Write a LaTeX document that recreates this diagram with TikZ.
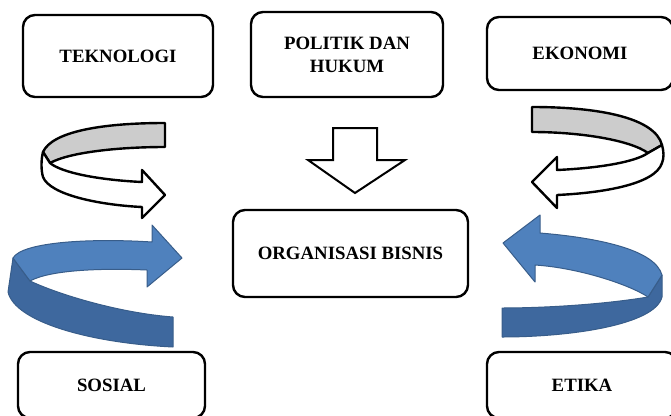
\documentclass[tikz,border=0pt]{standalone}
\usepackage{fontspec}
\setmainfont{Liberation Serif}
\definecolor{birumuda}{RGB}{79,129,189}
\definecolor{birutua}{RGB}{62,104,158}
\definecolor{birugaris}{RGB}{56,93,138}

\begin{document}
\begin{tikzpicture}[x=1pt,y=-1pt]
	\tikzset{kotak/.style={draw, line width=2.4pt, rounded corners=12pt, align=center,
			inner sep=0pt, font=\fontsize{18.8}{23}\selectfont\bfseries}}
	\tikzset{putih/.style={draw=black, fill=white, line width=2.4pt, line join=round}}
	\tikzset{abu/.style={putih, fill=black!20}}
	\tikzset{biru/.style={draw=birugaris, line width=1pt, line join=round}}
	\clip (0,0) rectangle (671,415);
	% kotak-kotak faktor lingkungan
	\node[kotak, minimum width=190pt, minimum height=82pt] (teknologi) at (118,56) {TEKNOLOGI};
	\node[kotak, minimum width=192pt, minimum height=85pt] (politik) at (347,54.5) {POLITIK DAN\\HUKUM};
	\node[kotak, minimum width=186pt, minimum height=73pt] (ekonomi) at (580,53.5) {EKONOMI};
	\node[kotak, minimum width=235pt, minimum height=87pt] (organisasi) at (350.5,253.5) {ORGANISASI BISNIS};
	\node[kotak, minimum width=187pt, minimum height=66pt] (sosial) at (111.5,385) {SOSIAL};
	\node[kotak, minimum width=190pt, minimum height=66pt] (etika) at (582,385) {ETIKA};
	% panah ke bawah dari politik
	\path[putih, line width=2pt, line join=miter] (333,128) -- (377,128) -- (377,160) -- (405,160)
		-- (355,193) -- (308,160) -- (333,160) -- cycle;
	% panah melingkar kiri atas
	\path[abu] (165,123) .. controls (100,123) and (52,132) .. (43,152)
		-- (50,163) .. controls (70,152) and (120,147) .. (165,147) -- cycle;
	\path[putih] (43,152) .. controls (41,160) and (41,170) .. (43,177)
		.. controls (50,195) and (100,205) .. (142,207)
		-- (142,218) -- (165,195) -- (142,170) -- (142,182)
		.. controls (100,180) and (62,173) .. (50,163) -- cycle;
	% panah melingkar kanan atas
	\path[abu] (532,107) .. controls (600,107) and (655,118) .. (662,145)
		-- (648,153) .. controls (630,140) and (580,132) .. (532,132) -- cycle;
	\path[putih] (648,153) -- (662,145) .. controls (664,152) and (664,158) .. (662,163)
		.. controls (655,185) and (600,193) .. (557,195)
		-- (557,208) -- (532,182) -- (557,157) -- (557,170)
		.. controls (600,168) and (635,162) .. (648,153) -- cycle;
	% panah biru kiri bawah
	\path[biru, fill=birutua] (13,258) -- (30,281) .. controls (60,295) and (120,313) .. (173,317)
		-- (173,347) .. controls (90,343) and (15,322) .. (8,292) -- cycle;
	\path[biru, fill=birumuda] (13,258) .. controls (22,242) and (90,238) .. (152,242)
		-- (152,225) -- (182,258) -- (147,287) -- (147,270)
		.. controls (100,268) and (50,270) .. (30,281) -- cycle;
	% panah biru kanan bawah
	\path[biru, fill=birutua] (662,275) -- (648,297) .. controls (600,305) and (540,308) .. (502,308)
		-- (502,337) .. controls (570,337) and (655,325) .. (662,297) -- cycle;
	\path[biru, fill=birumuda] (540,233) .. controls (600,238) and (655,250) .. (662,275)
		-- (648,297) .. controls (630,285) and (580,268) .. (535,265)
		-- (535,282) -- (503,243) -- (540,215) -- cycle;
\end{tikzpicture}
\end{document}
